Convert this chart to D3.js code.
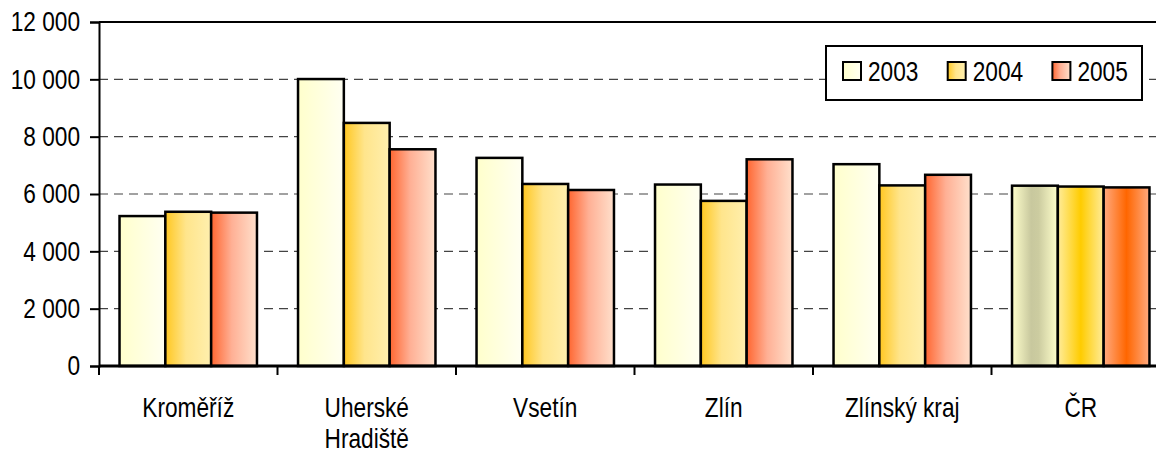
<html>
<head>
<meta charset="utf-8">
<script src="https://d3js.org/d3.v7.min.js"></script>
<style>
  body { margin: 0; background: #ffffff; }
  text { font-family: "Liberation Sans", Arial, sans-serif; }
</style>
</head>
<body>
<div id="div1"></div>

<script>

// data
var categories = ["Kroměříž", "Uherské\nHradiště", "Vsetín", "Zlín", "Zlínský kraj", "ČR"]
var years = ["2003", "2004", "2005"]
var values_2003 = [5230, 10010, 7260, 6330, 7040, 6290]
var values_2004 = [5380, 8480, 6350, 5760, 6300, 6260]
var values_2005 = [5350, 7560, 6140, 7210, 6670, 6230]
var y_ticks = [0, 2000, 4000, 6000, 8000, 10000, 12000]

var series = [values_2003, values_2004, values_2005]

//Svg Dimensions
var svg_width = 1156
var svg_height = 452

var left = 99
var right = 1170
var top_y = 22
var bottom_y = 366

// no narrow font installed, so squeeze the regular one
var narrow = 0.81
var font_size = "28px"

var svg = d3.select("#div1").append("svg")
  .attr("width", svg_width)
  .attr("height", svg_height)

// gradients
var defs = svg.append("defs")

var add_gradient = function(id, stops) {
  var g = defs.append("linearGradient")
    .attr("id", id)
    .attr("x1", "0%").attr("x2", "100%")
    .attr("y1", "0%").attr("y2", "0%")
  stops.forEach(function(s) {
    g.append("stop").attr("offset", s[0]).attr("stop-color", s[1])
  })
}

add_gradient("g2003", [["0%", "#FFFFCC"], ["60%", "#FFFFE2"], ["100%", "#FFFFF2"]])
add_gradient("g2004", [["0%", "#FFC720"], ["45%", "#FFE58C"], ["100%", "#FFEFAE"]])
add_gradient("g2005", [["0%", "#FF6630"], ["45%", "#FFB095"], ["100%", "#FFE0CC"]])
// ČR bars have a reflected gradient
add_gradient("c2003", [["0%", "#FFFFCC"], ["42%", "#C8C89E"], ["58%", "#CCCCA0"], ["100%", "#FFFFCC"]])
add_gradient("c2004", [["0%", "#FFEC9A"], ["50%", "#FFCC00"], ["100%", "#FFEC9A"]])
add_gradient("c2005", [["0%", "#FFAA80"], ["50%", "#FF6600"], ["100%", "#FFAA80"]])

var fill_for = function(ci, yi) {
  if (categories[ci] == "ČR") { return "url(#c" + years[yi] + ")" }
  return "url(#g" + years[yi] + ")"
}

// scales
var y = d3.scaleLinear()
  .domain([0, 12000])
  .range([bottom_y, top_y])

var x0 = d3.scaleBand()
  .domain(categories)
  .range([left, right])

var pad = x0.bandwidth() * 0.115

var x1 = d3.scaleBand()
  .domain(years)
  .range([pad, x0.bandwidth() - pad])

var fmt = d3.formatLocale({decimal: ",", thousands: " ", grouping: [3], currency: ["", ""]}).format(",")

// gridlines
svg.append("g")
  .selectAll("line")
  .data(y_ticks.filter(function(d) { return d > 0 && d < 12000 }))
  .enter().append("line")
  .attr("x1", left)
  .attr("x2", right)
  .attr("y1", function(d) { return y(d) })
  .attr("y2", function(d) { return y(d) })
  .style("stroke", "#444444")
  .style("stroke-width", 1.2)
  .style("stroke-dasharray", "9,6")

// top border of plot area
svg.append("line")
  .attr("x1", left).attr("x2", right)
  .attr("y1", y(12000)).attr("y2", y(12000))
  .style("stroke", "#000000")
  .style("stroke-width", 2)

// bars
var groups = svg.append("g")
  .selectAll("g")
  .data(categories)
  .enter().append("g")
  .attr("transform", function(d) { return "translate(" + x0(d) + ",0)" })

groups.selectAll("rect")
  .data(function(d, ci) { return years.map(function(yr, yi) { return {ci: ci, yi: yi, v: series[yi][ci]} }) })
  .enter().append("rect")
  .attr("x", function(d) { return x1(years[d.yi]) })
  .attr("width", x1.bandwidth())
  .attr("y", function(d) { return y(d.v) })
  .attr("height", function(d) { return y(0) - y(d.v) })
  .style("fill", function(d) { return fill_for(d.ci, d.yi) })
  .style("stroke", "#000000")
  .style("stroke-width", 2.5)

// y axis
var y_axis = svg.append("g")
  .attr("transform", "translate(" + left + ",0)")
  .call(d3.axisLeft(y).tickValues(y_ticks).tickSize(9).tickFormat(fmt))

y_axis.select(".domain").style("stroke-width", 2)
y_axis.selectAll(".tick line").style("stroke-width", 2)
y_axis.selectAll(".tick text")
  .attr("x", -19 / narrow)
  .attr("transform", "scale(" + narrow + ",1)")
  .style("font-family", "'Liberation Sans', Arial, sans-serif")
  .style("font-size", font_size)
  .style("fill", "#000000")

// x axis
var x_axis = svg.append("g")
  .attr("transform", "translate(0," + bottom_y + ")")

x_axis.append("line")
  .attr("x1", left).attr("x2", right)
  .attr("y1", 0).attr("y2", 0)
  .style("stroke", "#000000")
  .style("stroke-width", 3)

x_axis.selectAll(".cat_tick")
  .data(categories)
  .enter().append("line")
  .attr("class", "cat_tick")
  .attr("x1", function(d) { return x0(d) })
  .attr("x2", function(d) { return x0(d) })
  .attr("y1", 0)
  .attr("y2", 9)
  .style("stroke", "#000000")
  .style("stroke-width", 2)

x_axis.selectAll(".cat_label")
  .data(categories)
  .enter().append("text")
  .attr("class", "cat_label")
  .attr("text-anchor", "middle")
  .attr("transform", function(d) { return "translate(" + (x0(d) + x0.bandwidth() / 2) + ",51) scale(" + narrow + ",1)" })
  .style("font-size", font_size)
  .style("fill", "#000000")
  .each(function(d) {
    var lines = d.split("\n")
    var t = d3.select(this)
    lines.forEach(function(l, i) {
      t.append("tspan")
        .attr("x", 0)
        .attr("dy", i == 0 ? 0 : 31)
        .text(l)
    })
  })

// legend
var legend = svg.append("g")
  .attr("transform", "translate(826,46)")

legend.append("rect")
  .attr("width", 316)
  .attr("height", 54)
  .style("fill", "#ffffff")
  .style("stroke", "#000000")
  .style("stroke-width", 2)

var items = legend.selectAll(".item")
  .data(years)
  .enter().append("g")
  .attr("class", "item")
  .attr("transform", function(d, i) { return "translate(" + (17 + i * 104.7) + ",16)" })

items.append("rect")
  .attr("width", 18)
  .attr("height", 18)
  .style("fill", function(d) { return "url(#g" + d + ")" })
  .style("stroke", "#000000")
  .style("stroke-width", 2)

items.append("text")
  .attr("transform", "translate(25,19) scale(" + narrow + ",1)")
  .style("font-size", font_size)
  .style("fill", "#000000")
  .text(function(d) { return d })

</script>
</body>
</html>
